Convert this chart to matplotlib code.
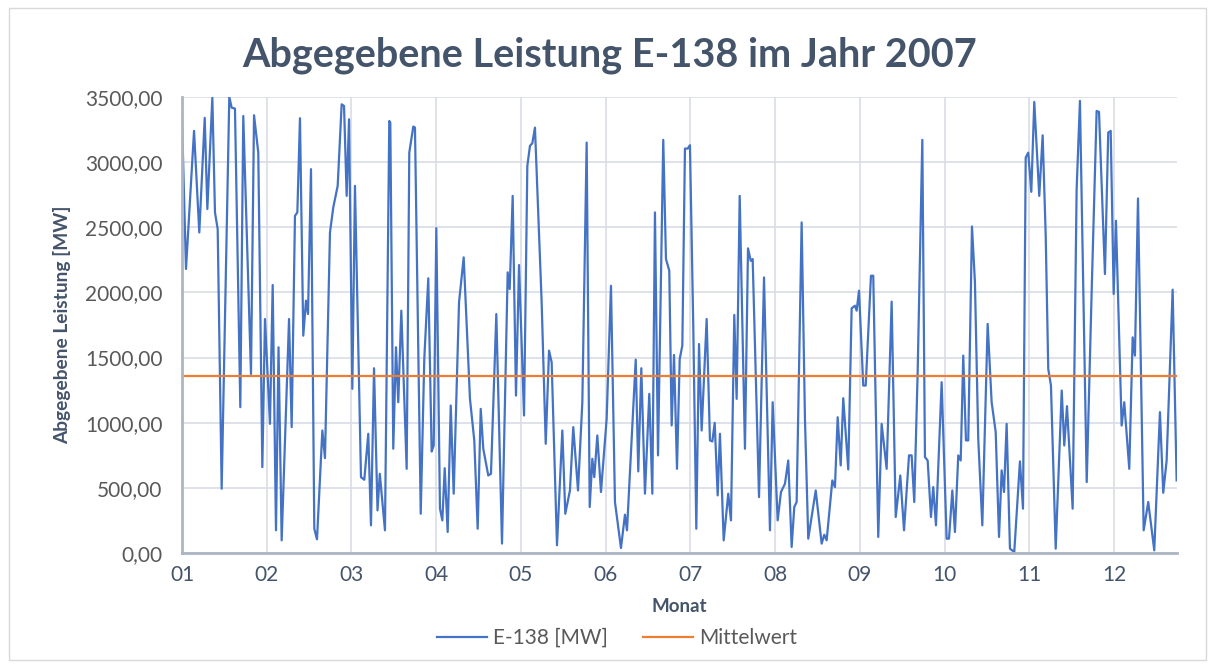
import matplotlib
matplotlib.use("Agg")
import matplotlib.pyplot as plt
from matplotlib.patches import Rectangle
from matplotlib.ticker import FuncFormatter

# Monat (als Bruchteil) und abgegebene Leistung in MW
monat = [
    1.000, 1.047, 1.142, 1.204, 1.268, 1.299, 1.358, 1.389, 1.421, 1.468,
    1.558, 1.586, 1.625, 1.688, 1.723, 1.814, 1.850, 1.900, 1.948, 1.979,
    2.038, 2.070, 2.109, 2.139, 2.176, 2.263, 2.294, 2.333, 2.361, 2.392,
    2.431, 2.463, 2.487, 2.522, 2.561, 2.593, 2.656, 2.687, 2.746, 2.785,
    2.837, 2.884, 2.912, 2.943, 2.971, 3.010, 3.041, 3.112, 3.151, 3.198,
    3.230, 3.266, 3.307, 3.334, 3.395, 3.446, 3.458, 3.493, 3.525, 3.552,
    3.588, 3.651, 3.682, 3.729, 3.749, 3.817, 3.859, 3.906, 3.946, 3.970,
    4.001, 4.044, 4.072, 4.100, 4.135, 4.171, 4.206, 4.269, 4.324, 4.398,
    4.449, 4.489, 4.525, 4.555, 4.614, 4.646, 4.709, 4.776, 4.843, 4.867,
    4.902, 4.941, 4.977, 5.036, 5.075, 5.106, 5.134, 5.165, 5.244, 5.292,
    5.331, 5.362, 5.425, 5.488, 5.523, 5.578, 5.617, 5.673, 5.724, 5.775,
    5.811, 5.842, 5.865, 5.901, 5.944, 6.011, 6.062, 6.109, 6.180, 6.227,
    6.251, 6.354, 6.384, 6.420, 6.463, 6.514, 6.550, 6.581, 6.617, 6.679,
    6.711, 6.750, 6.778, 6.806, 6.841, 6.873, 6.904, 6.935, 6.967, 6.994,
    7.033, 7.069, 7.101, 7.132, 7.191, 7.230, 7.258, 7.286, 7.321, 7.348,
    7.392, 7.446, 7.478, 7.517, 7.545, 7.581, 7.643, 7.679, 7.711, 7.734,
    7.809, 7.868, 7.938, 7.970, 8.029, 8.068, 8.115, 8.154, 8.194, 8.225,
    8.253, 8.312, 8.351, 8.390, 8.478, 8.548, 8.579, 8.607, 8.674, 8.705,
    8.737, 8.773, 8.803, 8.862, 8.902, 8.941, 8.961, 8.989, 9.039, 9.068,
    9.130, 9.157, 9.216, 9.256, 9.315, 9.374, 9.422, 9.476, 9.520, 9.579,
    9.610, 9.641, 9.681, 9.736, 9.767, 9.799, 9.838, 9.865, 9.897, 9.964,
    10.023, 10.051, 10.090, 10.121, 10.160, 10.189, 10.219, 10.251, 10.278, 10.322,
    10.357, 10.396, 10.444, 10.507, 10.554, 10.602, 10.641, 10.672, 10.700, 10.731,
    10.770, 10.821, 10.888, 10.924, 10.956, 10.986, 11.022, 11.057, 11.116, 11.156,
    11.192, 11.222, 11.254, 11.310, 11.381, 11.411, 11.443, 11.510, 11.557, 11.596,
    11.676, 11.734, 11.793, 11.821, 11.891, 11.930, 11.959, 11.994, 12.021, 12.088,
    12.119, 12.178, 12.218, 12.245, 12.281, 12.348, 12.402, 12.473, 12.540, 12.579,
    12.619, 12.690, 12.737,
]
leistung = [
    3330, 2180, 3240, 2460, 3340, 2640, 3495, 2614, 2486, 493,
    3500, 3418, 3411, 1119, 3354, 1374, 3360, 3073, 659, 1796,
    991, 2057, 174, 1579, 97, 1796, 966, 2588, 2614, 3337,
    1668, 1937, 1834, 2946, 186, 105, 940, 728, 2460, 2652,
    2818, 3444, 3431, 2741, 3329, 1260, 2818, 582, 562, 915,
    212, 1418, 327, 608, 174, 3316, 3303, 800, 1579, 1157,
    1860, 646, 3073, 3273, 3265, 301, 1489, 2108, 779, 825,
    2493, 340, 250, 651, 161, 1132, 455, 1924, 2269, 1183,
    864, 186, 1106, 800, 595, 608, 1834, 72, 2154, 2026,
    2741, 1208, 2210, 1055, 2971, 3125, 3145, 3265, 1924, 838,
    1553, 1464, 59, 940, 301, 480, 966, 480, 1157, 3150,
    353, 723, 582, 902, 468, 1030, 2051, 391, 38, 294,
    174, 1484, 626, 1418, 455, 1221, 455, 2614, 749, 3171,
    2256, 2167, 979, 1520, 646, 1489, 1592, 3104, 3104, 3130,
    1745, 186, 1604, 940, 1796, 864, 856, 999, 442, 915,
    97, 455, 250, 1827, 1183, 2741, 800, 2338, 2243, 2256,
    429, 2115, 174, 1157, 250, 468, 531, 710, 46, 353,
    391, 2537, 1030, 110, 480, 72, 140, 97, 557, 506,
    1042, 672, 1188, 641, 1878, 1898, 1860, 2013, 1285, 1285,
    2128, 2128, 123, 991, 646, 1929, 276, 595, 174, 749,
    749, 391, 1387, 3171, 736, 710, 276, 506, 212, 1311,
    110, 110, 480, 161, 749, 710, 1515, 864, 864, 2506,
    2077, 876, 212, 1758, 1157, 927, 123, 634, 468, 991,
    33, 8, 703, 340, 3035, 3073, 2772, 3462, 2741, 3206,
    2435, 1413, 1285, 33, 1247, 825, 1127, 340, 2792, 3470,
    544, 2000, 3393, 3385, 2141, 3227, 3240, 1988, 2550, 978,
    1157, 646, 1655, 1515, 2721, 174, 391, 20, 1081, 462,
    710, 2021, 557,
]
mittelwert = 1355
monate = [1, 2, 3, 4, 5, 6, 7, 8, 9, 10, 11, 12]
monat_labels = ["01", "02", "03", "04", "05", "06", "07", "08", "09", "10", "11", "12"]
y_ticks = [0, 500, 1000, 1500, 2000, 2500, 3000, 3500]

plt.rcParams['font.family'] = ['Lato', 'DejaVu Sans']

fig = plt.figure(figsize=(12.15, 6.68), dpi=100)
ax = fig.add_axes([0.1498, 0.1722, 0.8189, 0.6826])

ax.plot(monat, leistung, color='#4472C4', lw=1.6, label='E-138 [MW]')
ax.axhline(mittelwert, color='#ED7D31', lw=1.6, label='Mittelwert')

ax.set_xlim(1, 12.741)
ax.set_ylim(0, 3500)
ax.set_xticks(monate)
ax.set_xticklabels(monat_labels)
ax.set_yticks(y_ticks)
ax.yaxis.set_major_formatter(FuncFormatter(lambda v, p: f"{v:.2f}".replace('.', ',')))

ax.grid(True, color='#D9DDE4', lw=1.2)
ax.set_axisbelow(True)
for s in ['top', 'right']:
    ax.spines[s].set_visible(False)
for s in ['left', 'bottom']:
    ax.spines[s].set_color('#ADB5C4')
    ax.spines[s].set_linewidth(2)
ax.tick_params(length=0, labelsize=15, colors='#44546A', pad=9)
ax.tick_params(axis='y', colors='#595959', pad=14)

fig.text(0.502, 0.918, 'Abgegebene Leistung E-138 im Jahr 2007', ha='center', va='center',
         fontsize=28.5, fontweight='bold', color='#44546A')
ax.set_ylabel('Abgegebene Leistung [MW]', fontsize=13.8, fontweight='bold', color='#44546A',
              labelpad=10)
# Achsentitel mittig unter der Zeichenfläche
fig.text(0.5593, 0.0915, 'Monat', ha='center', va='center', fontsize=13.5,
         fontweight='bold', color='#44546A')

leg = fig.legend(loc='center', bbox_to_anchor=(0.508, 0.045), ncol=2, frameon=False,
                 fontsize=15, handlelength=2.4, columnspacing=1.7, handletextpad=0.3)
for t in leg.get_texts():
    t.set_color('#595959')

fig.patches.append(Rectangle((0.007, 0.012), 0.986, 0.976, transform=fig.transFigure,
                             fill=False, edgecolor='#D9D9D9', lw=1))

fig.savefig('out.png', dpi=100)
